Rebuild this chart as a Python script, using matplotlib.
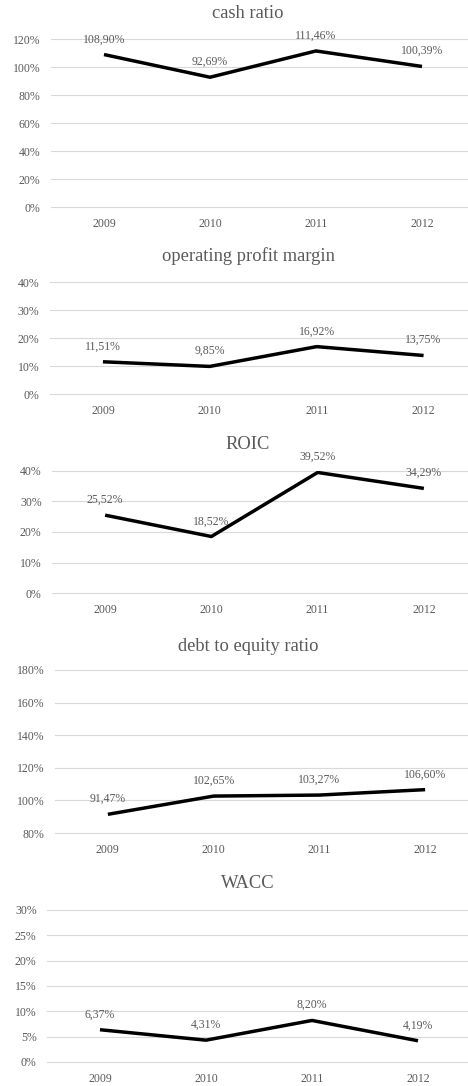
import matplotlib
matplotlib.use("Agg")
import matplotlib.pyplot as plt
import numpy as np
from matplotlib.ticker import FuncFormatter, MultipleLocator

plt.rcParams['font.family'] = ['Liberation Serif', 'DejaVu Serif']

years = ["2009", "2010", "2011", "2012"]
titles = ["cash ratio", "operating profit margin", "ROIC", "debt to equity ratio", "WACC"]
cash_ratio = [108.90, 92.69, 111.46, 100.39]
operating_margin = [11.51, 9.85, 16.92, 13.75]
roic = [25.52, 18.52, 39.52, 34.29]
debt_equity = [91.47, 102.65, 103.27, 106.60]
wacc = [6.37, 4.31, 8.20, 4.19]
series = [cash_ratio, operating_margin, roic, debt_equity, wacc]
y_ranges = [(0, 120, 20), (0, 40, 10), (0, 40, 10), (80, 180, 20), (0, 30, 5)]

# layout in pixels: left, right, top gridline, bottom gridline, title y
layout = [
    (51, 475, 39, 207, 12),
    (49.5, 477, 282, 394, 255),
    (52, 477, 471, 593, 443),
    (55, 478, 670, 833, 645),
    (47, 471, 910, 1062, 882),
]

W, H = 468, 1086
fig = plt.figure(figsize=(W / 100, H / 100), dpi=100)
TEXT = "#595959"
GRID = "#d9d9d9"

for vals, title, (ymin, ymax, step), (lpx, rpx, tpx, bpx, typ) in zip(series, titles, y_ranges, layout):
    ax = fig.add_axes([lpx / W, 1 - bpx / H, (rpx - lpx) / W, (bpx - tpx) / H])
    x = np.arange(len(years))
    ax.plot(x, vals, color="black", lw=2.5, solid_capstyle="butt", zorder=3)
    ax.set_xlim(-0.5, len(years) - 0.5)
    ax.set_ylim(ymin, ymax)
    ax.yaxis.set_major_locator(MultipleLocator(step))
    ax.yaxis.set_major_formatter(FuncFormatter(lambda v, p: f"{v:.0f}%"))
    ax.set_xticks(x)
    ax.set_xticklabels(years)
    ax.grid(axis="y", color=GRID, lw=0.8, zorder=0)
    ax.set_axisbelow(True)
    for gl in ax.get_ygridlines():
        gl.set_clip_on(False)
    for s in ax.spines.values():
        s.set_visible(False)
    ax.tick_params(axis="both", length=0, labelsize=8.5, labelcolor=TEXT)
    ax.tick_params(axis="y", pad=7.5)
    ax.tick_params(axis="x", pad=8)
    for xi, v in zip(x, vals):
        ax.annotate(f"{v:.2f}%".replace(".", ","), (xi, v), xytext=(0, 11),
                    textcoords="offset points", ha="center", va="center",
                    fontsize=8.5, color=TEXT, annotation_clip=False)
    fig.text(248 / W, 1 - (typ + 1.5) / H, title, ha="center", va="center", fontsize=13.3, color=TEXT)

fig.savefig("out.png", dpi=100)
